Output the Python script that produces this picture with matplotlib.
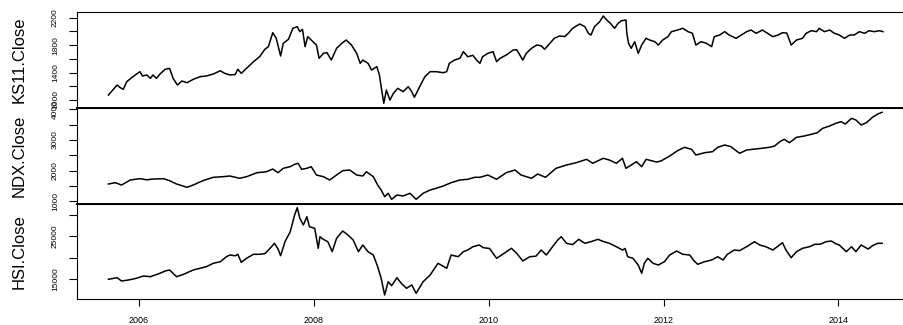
from matplotlib import pyplot as plt
import numpy as np

plt.rcParams['font.family'] = ['Liberation Sans', 'DejaVu Sans']

# closing prices, time in decimal years
ks11_t = [2005.65, 2005.75, 2005.78, 2005.82, 2005.86, 2005.93, 2006.01, 2006.04, 2006.09, 2006.13,
          2006.16, 2006.20, 2006.24, 2006.30, 2006.35, 2006.39, 2006.44, 2006.49, 2006.55, 2006.62,
          2006.70, 2006.77, 2006.85, 2006.93, 2006.98, 2007.04, 2007.10, 2007.13, 2007.17, 2007.23,
          2007.31, 2007.38, 2007.44, 2007.48, 2007.53, 2007.57, 2007.62, 2007.65, 2007.71, 2007.76,
          2007.81, 2007.84, 2007.87, 2007.90, 2007.93, 2007.99, 2008.03, 2008.06, 2008.11, 2008.15,
          2008.20, 2008.26, 2008.32, 2008.37, 2008.43, 2008.49, 2008.53, 2008.56, 2008.62, 2008.66,
          2008.72, 2008.75, 2008.77, 2008.80, 2008.83, 2008.87, 2008.91, 2008.96, 2009.02, 2009.08,
          2009.12, 2009.15, 2009.21, 2009.27, 2009.33, 2009.40, 2009.48, 2009.52, 2009.55, 2009.61,
          2009.67, 2009.71, 2009.76, 2009.82, 2009.86, 2009.90, 2009.93, 2009.99, 2010.05, 2010.09,
          2010.13, 2010.20, 2010.28, 2010.32, 2010.39, 2010.43, 2010.49, 2010.55, 2010.60, 2010.64,
          2010.70, 2010.75, 2010.81, 2010.87, 2010.91, 2010.96, 2011.04, 2011.10, 2011.14, 2011.17,
          2011.21, 2011.27, 2011.31, 2011.35, 2011.39, 2011.44, 2011.48, 2011.52, 2011.57, 2011.58,
          2011.60, 2011.63, 2011.67, 2011.71, 2011.75, 2011.80, 2011.84, 2011.90, 2011.94, 2011.99,
          2012.05, 2012.09, 2012.16, 2012.22, 2012.28, 2012.33, 2012.37, 2012.43, 2012.49, 2012.55,
          2012.58, 2012.64, 2012.70, 2012.75, 2012.83, 2012.89, 2012.95, 2013.00, 2013.06, 2013.13,
          2013.19, 2013.25, 2013.31, 2013.36, 2013.41, 2013.46, 2013.52, 2013.59, 2013.63, 2013.69,
          2013.75, 2013.78, 2013.84, 2013.90, 2013.95, 2014.01, 2014.07, 2014.13, 2014.18, 2014.24,
          2014.30, 2014.35, 2014.41, 2014.47, 2014.51]
ks11_v = [1071, 1217, 1184, 1154, 1266, 1339, 1412, 1349, 1364, 1315,
          1364, 1315, 1378, 1447, 1461, 1315, 1217, 1276, 1251, 1300,
          1339, 1349, 1378, 1426, 1388, 1364, 1370, 1447, 1388, 1461,
          1558, 1631, 1739, 1777, 1981, 1899, 1641, 1826, 1885, 2045,
          2069, 1996, 2030, 1777, 1923, 1850, 1800, 1607, 1680, 1690,
          1582, 1753, 1826, 1874, 1801, 1680, 1534, 1582, 1534, 1436,
          1485, 1364, 1193, 950, 1144, 998, 1096, 1169, 1120, 1193,
          1120, 1038, 1193, 1339, 1412, 1412, 1397, 1412, 1534, 1582,
          1607, 1704, 1631, 1650, 1582, 1534, 1631, 1680, 1704, 1558,
          1607, 1655, 1728, 1733, 1582, 1680, 1753, 1801, 1790, 1739,
          1826, 1899, 1933, 1925, 1972, 2045, 2108, 2069, 1972, 1947,
          2069, 2142, 2225, 2166, 2120, 2045, 2118, 2156, 2166, 1972,
          1826, 1753, 1850, 1680, 1801, 1900, 1874, 1850, 1801, 1874,
          1923, 1996, 2020, 2045, 1996, 1972, 1801, 1850, 1826, 1777,
          1923, 1947, 1996, 1947, 1899, 1947, 1996, 2020, 1972, 2020,
          1972, 1923, 1947, 1981, 1975, 1801, 1874, 1899, 1972, 2010,
          1996, 2045, 1996, 2020, 1975, 1947, 1899, 1947, 1947, 1996,
          1972, 2010, 1996, 2010, 1996]

ndx_t = [2005.65, 2005.73, 2005.80, 2005.90, 2006.01, 2006.09, 2006.16, 2006.28, 2006.35, 2006.43,
         2006.55, 2006.62, 2006.73, 2006.85, 2006.96, 2007.04, 2007.15, 2007.23, 2007.35, 2007.46,
         2007.53, 2007.59, 2007.65, 2007.73, 2007.78, 2007.82, 2007.86, 2007.92, 2007.97, 2008.03,
         2008.11, 2008.18, 2008.26, 2008.33, 2008.41, 2008.49, 2008.56, 2008.60, 2008.68, 2008.73,
         2008.77, 2008.81, 2008.85, 2008.89, 2008.95, 2009.02, 2009.10, 2009.17, 2009.25, 2009.33,
         2009.40, 2009.48, 2009.57, 2009.67, 2009.76, 2009.84, 2009.90, 2009.99, 2010.09, 2010.20,
         2010.30, 2010.37, 2010.49, 2010.56, 2010.65, 2010.77, 2010.89, 2011.00, 2011.12, 2011.19,
         2011.31, 2011.38, 2011.46, 2011.53, 2011.57, 2011.63, 2011.69, 2011.75, 2011.80, 2011.86,
         2011.92, 2011.97, 2012.07, 2012.16, 2012.24, 2012.32, 2012.37, 2012.47, 2012.56, 2012.62,
         2012.70, 2012.77, 2012.87, 2012.95, 2013.02, 2013.12, 2013.21, 2013.27, 2013.33, 2013.38,
         2013.44, 2013.52, 2013.61, 2013.69, 2013.76, 2013.82, 2013.90, 2013.97, 2014.03, 2014.08,
         2014.15, 2014.20, 2014.26, 2014.32, 2014.39, 2014.45, 2014.50]
ndx_v = [1562, 1605, 1529, 1693, 1736, 1700, 1725, 1736, 1670, 1562,
         1454, 1529, 1670, 1781, 1801, 1824, 1748, 1800, 1932, 1964,
         2052, 1932, 2075, 2128, 2206, 2239, 2042, 2075, 2128, 1856,
         1801, 1693, 1856, 1998, 2020, 1856, 1824, 1964, 1801, 1529,
         1366, 1147, 1258, 1062, 1203, 1170, 1258, 1062, 1258, 1366,
         1422, 1497, 1605, 1693, 1716, 1781, 1781, 1856, 1716, 1932,
         2020, 1856, 1748, 1889, 1781, 2075, 2183, 2258, 2369, 2239,
         2402, 2346, 2239, 2402, 2075, 2183, 2291, 2128, 2369, 2324,
         2280, 2314, 2477, 2651, 2761, 2696, 2510, 2585, 2618, 2761,
         2837, 2782, 2565, 2673, 2696, 2729, 2761, 2804, 2946, 3023,
         2912, 3088, 3131, 3186, 3239, 3382, 3458, 3546, 3598, 3523,
         3709, 3654, 3490, 3565, 3742, 3850, 3905]

hsi_t = [2005.65, 2005.75, 2005.80, 2005.88, 2005.97, 2006.05, 2006.13, 2006.24, 2006.30, 2006.35,
         2006.43, 2006.51, 2006.62, 2006.70, 2006.77, 2006.85, 2006.93, 2007.00, 2007.04, 2007.10,
         2007.13, 2007.17, 2007.23, 2007.31, 2007.38, 2007.44, 2007.50, 2007.55, 2007.59, 2007.62,
         2007.67, 2007.73, 2007.76, 2007.78, 2007.81, 2007.84, 2007.88, 2007.92, 2007.95, 2008.01,
         2008.05, 2008.07, 2008.11, 2008.16, 2008.21, 2008.26, 2008.33, 2008.39, 2008.45, 2008.51,
         2008.56, 2008.62, 2008.68, 2008.73, 2008.77, 2008.81, 2008.85, 2008.89, 2008.95, 2009.00,
         2009.06, 2009.12, 2009.17, 2009.25, 2009.33, 2009.42, 2009.52, 2009.57, 2009.65, 2009.71,
         2009.76, 2009.82, 2009.89, 2009.94, 2010.01, 2010.09, 2010.16, 2010.26, 2010.32, 2010.39,
         2010.47, 2010.54, 2010.60, 2010.66, 2010.73, 2010.79, 2010.83, 2010.89, 2010.96, 2011.03,
         2011.10, 2011.17, 2011.25, 2011.30, 2011.38, 2011.46, 2011.53, 2011.56, 2011.59, 2011.65,
         2011.71, 2011.75, 2011.78, 2011.82, 2011.88, 2011.94, 2012.01, 2012.07, 2012.15, 2012.22,
         2012.30, 2012.34, 2012.39, 2012.47, 2012.55, 2012.62, 2012.68, 2012.73, 2012.81, 2012.87,
         2012.95, 2013.04, 2013.10, 2013.17, 2013.25, 2013.30, 2013.36, 2013.40, 2013.46, 2013.52,
         2013.59, 2013.67, 2013.73, 2013.79, 2013.86, 2013.92, 2013.97, 2014.01, 2014.09, 2014.15,
         2014.20, 2014.26, 2014.34, 2014.39, 2014.45, 2014.50]
hsi_v = [14930, 15300, 14535, 14767, 15163, 15698, 15535, 16326, 16861, 17093,
         15535, 16093, 17093, 17489, 17861, 18652, 19024, 20187, 20582, 20400,
         20745, 18884, 19815, 20745, 20745, 20900, 22141, 23304, 22000, 20420,
         23676, 26002, 28328, 29886, 31584, 29118, 27560, 29491, 27165, 26793,
         22141, 24839, 24200, 23676, 21350, 24467, 26165, 25235, 24071, 21350,
         22909, 21350, 20582, 17861, 15163, 11279, 14372, 13442, 15302, 14000,
         12837, 13605, 11674, 14372, 15930, 18652, 17489, 20582, 20187, 21350,
         21745, 22513, 22909, 22280, 22100, 19815, 20745, 22141, 20978, 19187,
         20187, 20300, 21745, 20582, 22513, 24071, 24839, 23304, 23000, 24235,
         23304, 23676, 24235, 23800, 23304, 22513, 21745, 22100, 20187, 19815,
         18256, 16326, 18652, 19815, 18652, 18256, 19024, 20582, 21512, 20745,
         20582, 19419, 18419, 19024, 19419, 20187, 19419, 20745, 21745, 21600,
         22513, 23676, 22909, 22513, 21745, 22500, 23443, 21745, 19954, 21350,
         22141, 22513, 23071, 23071, 23676, 23839, 23200, 22909, 21350, 22513,
         21350, 22909, 21977, 22746, 23304, 23304]

names = ['KS11.Close', 'NDX.Close', 'HSI.Close']
series = [(ks11_t, ks11_v), (ndx_t, ndx_v), (hsi_t, hsi_v)]
ylims = [(882, 2283), (925, 4046), (10348, 32561)]
yticks = [np.arange(1000, 2201, 200), np.arange(1000, 4001, 500), np.arange(15000, 30001, 5000)]
ylabels = [['1000', '', '1400', '', '1800', '', '2200'],
           ['1000', '', '2000', '', '3000', '', '4000'],
           ['15000', '', '25000', '']]
year_ticks = [2006, 2008, 2010, 2012, 2014]

W, H = 904, 325
fig = plt.figure(figsize=(W / 100, H / 100), dpi=100)

# panel edges in pixels (top, bottom)
edges = [(12, 108), (108, 203.5), (203.5, 299)]
left, right = 77, 913.6

for i, (name, (t, v)) in enumerate(zip(names, series)):
    top, bot = edges[i]
    ax = fig.add_axes([left / W, (H - bot) / H, (right - left) / W, (bot - top) / H])
    ax.plot(t, v, color='black', lw=1.1)
    ax.set_xlim(2005.291, 2014.86)
    ax.set_ylim(*ylims[i])
    ax.set_yticks(yticks[i])
    ax.set_yticklabels(ylabels[i])
    ax.tick_params(axis='y', labelrotation=90, length=6, width=0.8, pad=7, labelsize=6)
    for lab in ax.get_yticklabels():
        lab.set_va('center')
    ax.spines['right'].set_visible(False)
    for s in ['left', 'top', 'bottom']:
        ax.spines[s].set_linewidth(0.8)
    if i < 2:
        ax.spines['bottom'].set_linewidth(1.4)
        ax.set_xticks([])
    else:
        ax.set_xticks(year_ticks)
        ax.set_xticklabels([str(y) for y in year_ticks])
        ax.tick_params(axis='x', length=5, width=0.8, pad=7, labelsize=6.5)
    fig.text(19 / W, 1 - (top + bot) / 2 / H, name, rotation=90,
             ha='center', va='center', fontsize=12)

fig.savefig('out.png', dpi=100)
